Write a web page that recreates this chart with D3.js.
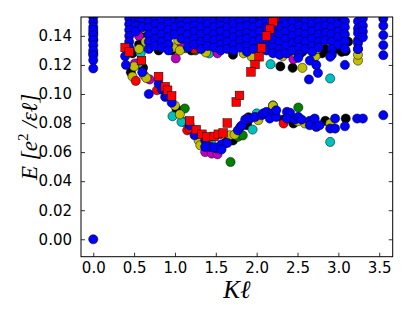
<!DOCTYPE html>
<html>
<head>
<meta charset="utf-8">
<script src="https://d3js.org/d3.v7.min.js"></script>
<style>
  body { margin: 0; background: #fff; }
  .tick text { font-family: "DejaVu Sans", sans-serif; font-size: 15px; fill: #000; }
  .lab { font-family: "Liberation Serif", "DejaVu Serif", serif; font-style: italic; fill: #000; }
</style>
</head>
<body>
<svg id="chart" width="415" height="313"></svg>
<script>
// E vs K l, several system sizes, one colour each
var xTicks = [0, 0.5, 1.0, 1.5, 2.0, 2.5, 3.0, 3.5];
var yTicks = [0, 0.02, 0.04, 0.06, 0.08, 0.10, 0.12, 0.14];

// dense band at the top, listed as columns: [K, [E, E, ...]]
var blueColumns = [
  [0.00, [0.153, 0.1497, 0.1462, 0.144, 0.1405, 0.137, 0.1336, 0.130, 0.1267, 0.1233, 0.1176]],
  [0.44, [0.152, 0.148, 0.144, 0.140, 0.136, 0.132]],
  [0.52, [0.151, 0.147, 0.143]],
  [0.60, [0.152, 0.146]],
  [0.68, [0.150, 0.146, 0.141, 0.136, 0.131]],
  [0.76, [0.152, 0.148, 0.143, 0.138, 0.133]],
  [0.84, [0.151, 0.146, 0.141, 0.136, 0.132]],
  [0.92, [0.152, 0.148, 0.144, 0.139, 0.134, 0.130]],
  [1.00, [0.151, 0.146, 0.141]],
  [1.08, [0.152, 0.147, 0.143, 0.138]],
  [1.16, [0.150, 0.146, 0.141, 0.136, 0.132]],
  [1.24, [0.152, 0.147, 0.143, 0.138, 0.134]],
  [1.32, [0.151, 0.146, 0.141, 0.136, 0.131]],
  [1.40, [0.152, 0.148, 0.143, 0.138, 0.133]],
  [1.48, [0.150, 0.146, 0.141, 0.137, 0.132]],
  [1.56, [0.152, 0.147, 0.143, 0.138, 0.134, 0.130]],
  [1.64, [0.151, 0.146, 0.141, 0.136, 0.131]],
  [1.72, [0.152, 0.148, 0.143, 0.139, 0.134, 0.130]],
  [1.80, [0.150, 0.146, 0.141, 0.137, 0.132]],
  [1.88, [0.152, 0.147, 0.142, 0.138, 0.133, 0.129]],
  [1.96, [0.151, 0.146, 0.141, 0.136, 0.131]],
  [2.04, [0.152, 0.148, 0.143, 0.138]],
  [2.12, [0.150, 0.146, 0.134, 0.130]],
  [2.20, [0.152, 0.147, 0.142, 0.137, 0.132, 0.128]],
  [2.28, [0.151, 0.146, 0.141, 0.136, 0.131, 0.127]],
  [2.36, [0.152, 0.148, 0.143, 0.138, 0.133, 0.128]],
  [2.44, [0.150, 0.145, 0.140, 0.135, 0.130]],
  [2.52, [0.152, 0.147, 0.142, 0.137, 0.132, 0.127]],
  [2.60, [0.151, 0.146, 0.141, 0.136, 0.131]],
  [2.68, [0.152, 0.148, 0.143, 0.138, 0.133, 0.129]],
  [2.76, [0.150, 0.146, 0.141, 0.136, 0.132]],
  [2.84, [0.152, 0.147, 0.142, 0.137]],
  [2.92, [0.151, 0.146, 0.141, 0.136, 0.131, 0.127]],
  [3.00, [0.152, 0.148, 0.143, 0.139, 0.134]],
  [3.08, [0.150, 0.146, 0.141, 0.136, 0.131]],
  [3.24, [0.150, 0.145, 0.142, 0.137, 0.135, 0.131]],
  [3.30, [0.152, 0.147, 0.143, 0.139]],
  [3.55, [0.152, 0.147, 0.1405, 0.1336, 0.1267]]
];

var bluePoints = [
  [0.00, 0.000],
  [0.39, 0.126], [0.40, 0.120], [0.60, 0.115], [0.80, 0.107], [0.68, 0.100], [0.84, 0.103],
  [0.88, 0.098], [0.90, 0.0992], [0.96, 0.094], [1.18, 0.0785], [1.24, 0.0716], [1.37, 0.068],
  [1.43, 0.0636], [1.51, 0.0625], [1.57, 0.0654], [1.37, 0.0636], [1.48, 0.0632], [1.57, 0.0618],
  [1.64, 0.0663], [1.77, 0.075], [1.80, 0.0773], [1.82, 0.0785], [1.86, 0.0824], [1.92, 0.0831],
  [1.98, 0.0842], [2.06, 0.0854], [2.08, 0.0866], [2.12, 0.0877], [2.20, 0.0866], [2.16, 0.0831],
  [2.24, 0.0842], [2.24, 0.0888], [2.37, 0.0877], [2.41, 0.087], [2.37, 0.0831], [2.47, 0.0824],
  [2.51, 0.0842], [2.55, 0.0824], [2.65, 0.0815], [2.71, 0.0831], [2.65, 0.0785], [2.73, 0.0773],
  [2.77, 0.0785], [2.90, 0.0762], [2.96, 0.0762], [2.96, 0.0831], [3.08, 0.0778], [3.23, 0.0831],
  [3.30, 0.0831], [3.55, 0.0854],
  [2.75, 0.1145], [2.64, 0.110], [3.08, 0.120], [2.51, 0.1249], [2.65, 0.123], [2.73, 0.120],
  [2.90, 0.1256], [3.24, 0.131]
];

var redSquares = [
  [2.22, 0.153], [2.20, 0.1497], [2.16, 0.1446], [2.12, 0.140], [2.06, 0.1318], [2.03, 0.1256],
  [1.98, 0.1203], [1.93, 0.1152],
  [0.39, 0.132], [0.44, 0.129], [0.59, 0.123],
  [0.80, 0.112], [0.88, 0.105], [0.91, 0.1026], [0.96, 0.0987], [1.18, 0.0815], [1.26, 0.0755],
  [1.33, 0.0723], [1.39, 0.0705], [1.48, 0.0708], [1.53, 0.0723], [1.59, 0.0732], [1.64, 0.080],
  [1.75, 0.0945], [1.79, 0.099]
];

var redCircles = [
  [0.52, 0.109], [0.78, 0.1026], [1.15, 0.075], [1.18, 0.076], [2.33, 0.0797], [1.24, 0.131],
  [0.73, 0.1417]
];

var yellowPoints = [
  [0.50, 0.119], [0.48, 0.112], [0.62, 0.113], [0.65, 0.111], [1.00, 0.092], [1.06, 0.086],
  [1.29, 0.068], [1.31, 0.0647], [1.67, 0.0716], [1.73, 0.072], [2.02, 0.082], [2.20, 0.0918],
  [2.59, 0.0797], [2.90, 0.0797], [2.50, 0.0812], [1.40, 0.067],
  [0.56, 0.131], [0.62, 0.145], [0.64, 0.136], [0.98, 0.132], [1.04, 0.137], [1.06, 0.130],
  [1.38, 0.1286], [1.84, 0.128], [1.94, 0.1256], [2.32, 0.126], [2.56, 0.118], [2.72, 0.126],
  [2.74, 0.131], [3.24, 0.123], [3.24, 0.127], [2.48, 0.128], [1.12, 0.144]
];

var cyanPoints = [
  [0.55, 0.121], [0.97, 0.0847], [1.11, 0.0808], [1.08, 0.0808], [1.45, 0.0659], [2.00, 0.0866],
  [2.17, 0.1205], [2.90, 0.1107], [2.90, 0.067], [1.95, 0.0755], [2.20, 0.0922],
  [1.42, 0.128], [0.58, 0.128], [0.66, 0.132], [1.12, 0.133], [0.72, 0.147]
];

var magentaPoints = [
  [0.51, 0.121], [0.69, 0.110], [1.37, 0.060], [1.45, 0.059], [1.52, 0.0585], [1.88, 0.083],
  [1.01, 0.1245], [2.45, 0.124], [1.52, 0.128],
  [0.56, 0.140], [0.70, 0.138], [1.08, 0.134], [0.62, 0.150]
];

var greenPoints = [
  [1.12, 0.090], [1.68, 0.0532], [1.77, 0.0705], [1.75, 0.073], [1.83, 0.0715], [2.51, 0.0907],
  [1.13, 0.1315], [1.25, 0.130]
];

var blackPoints = [
  [0.46, 0.115], [0.61, 0.118], [1.02, 0.0893], [1.61, 0.0659], [1.63, 0.067], [1.71, 0.068],
  [1.88, 0.0797], [1.88, 0.0785], [1.90, 0.084], [2.33, 0.0824], [2.45, 0.0797], [2.84, 0.0815],
  [3.09, 0.0831],
  [2.29, 0.119], [2.44, 0.118], [2.84, 0.131], [3.09, 0.1295], [1.71, 0.127], [2.82, 0.1417],
  [0.00, 0.128], [0.00, 0.1375], [0.00, 0.142],
  [0.48, 0.128], [0.56, 0.134], [0.64, 0.141], [0.80, 0.130], [0.88, 0.138], [0.96, 0.130],
  [1.04, 0.144], [1.20, 0.130], [1.28, 0.140], [1.36, 0.130], [1.44, 0.136], [1.52, 0.131],
  [1.60, 0.140], [1.68, 0.131], [1.76, 0.136], [1.84, 0.131], [1.92, 0.141], [2.00, 0.131],
  [2.08, 0.136], [2.16, 0.131], [2.24, 0.129], [2.32, 0.134], [2.40, 0.128], [2.48, 0.139],
  [2.56, 0.129], [2.64, 0.136], [2.72, 0.140], [2.80, 0.128], [2.88, 0.140], [2.96, 0.131],
  [3.04, 0.129], [3.12, 0.136]
];

var svg = d3.select("#chart");
var padL = 81, padR = 392.7, padT = 17, padB = 256.7;

var x = d3.scaleLinear().domain([-0.15, 3.665]).range([padL, padR]);
var y = d3.scaleLinear().domain([-0.012, 0.153]).range([padB, padT]);

svg.append("clipPath").attr("id", "clip")
  .append("rect").attr("x", padL).attr("y", padT)
  .attr("width", padR - padL).attr("height", padB - padT);

var plot = svg.append("g").attr("clip-path", "url(#clip)");

function circles(data, color) {
  plot.append("g").selectAll("circle")
      .data(data)
    .enter().append("circle")
      .attr("cx", function(d) { return x(d[0]); })
      .attr("cy", function(d) { return y(d[1]); })
      .attr("r", 4.6)
      .style("fill", color)
      .style("stroke", "#000")
      .style("stroke-width", 0.5);
}

var blueBand = [];
blueColumns.forEach(function(c) {
  c[1].forEach(function(e) { blueBand.push([c[0], e]); });
});

circles(blackPoints, "#000000");
circles(greenPoints, "#008000");
circles(cyanPoints, "#00bfbf");
circles(magentaPoints, "#bf00bf");
circles(yellowPoints, "#bfbf00");
circles(redCircles, "#ff0000");
circles(blueBand, "#0000ff");
circles(bluePoints, "#0000ff");

var s = 8.6;
plot.append("g").selectAll("rect")
    .data(redSquares)
  .enter().append("rect")
    .attr("x", function(d) { return x(d[0]) - s / 2; })
    .attr("y", function(d) { return y(d[1]) - s / 2; })
    .attr("width", s)
    .attr("height", s)
    .style("fill", "#ff0000")
    .style("stroke", "#000")
    .style("stroke-width", 0.5);

// axes, ticks pointing inward on all four sides
svg.append("g").attr("transform", "translate(0," + padB + ")")
  .call(d3.axisBottom(x).tickValues(xTicks).tickFormat(d3.format(".1f")).tickSize(-4).tickPadding(6));
svg.append("g").attr("transform", "translate(0," + padT + ")")
  .call(d3.axisTop(x).tickValues(xTicks).tickFormat("").tickSize(-4));
svg.append("g").attr("transform", "translate(" + padL + ",0)")
  .call(d3.axisLeft(y).tickValues(yTicks).tickFormat(d3.format(".2f")).tickSize(-4).tickPadding(9));
svg.append("g").attr("transform", "translate(" + padR + ",0)")
  .call(d3.axisRight(y).tickValues(yTicks).tickFormat("").tickSize(-4));

svg.selectAll(".domain").remove();
svg.selectAll(".tick line").style("stroke", "#000").style("stroke-width", 0.8);

svg.append("rect")
  .attr("x", padL).attr("y", padT)
  .attr("width", padR - padL).attr("height", padB - padT)
  .style("fill", "none").style("stroke", "#000").style("stroke-width", 1);

svg.append("text").attr("class", "lab")
  .attr("x", (padL + padR) / 2).attr("y", 298)
  .attr("text-anchor", "middle")
  .style("font-size", "25px")
  .text("K\u2113");

var yl = svg.append("text").attr("class", "lab")
  .attr("transform", "translate(37," + ((padT + padB) / 2) + ") rotate(-90)")
  .attr("text-anchor", "middle")
  .style("font-size", "23px");
yl.append("tspan").text("E [e");
yl.append("tspan").attr("dy", -9).style("font-size", "15px").style("font-style", "normal").text("2");
yl.append("tspan").attr("dy", 9).text(" /\u03b5\u2113]");
</script>
</body>
</html>
